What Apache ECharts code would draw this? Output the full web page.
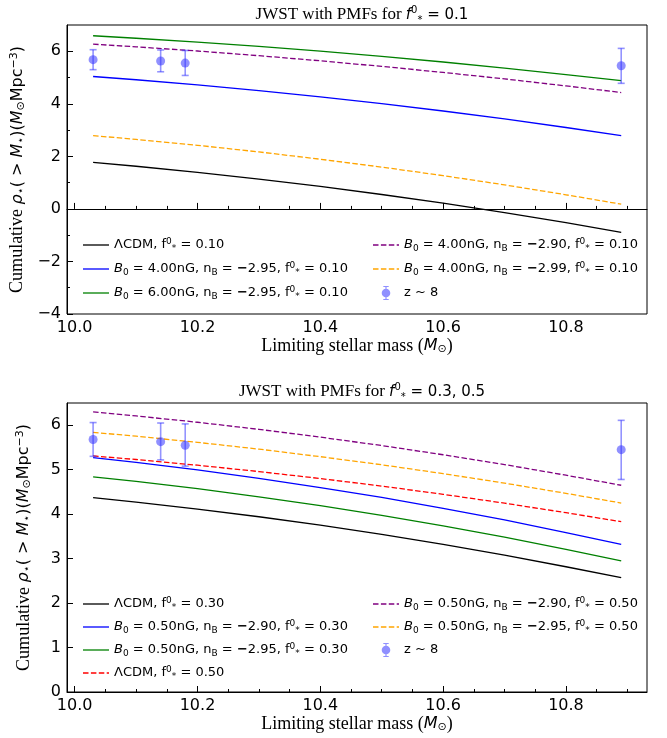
<!DOCTYPE html>
<html><head><meta charset="utf-8">
<script src="https://cdn.jsdelivr.net/npm/echarts@6/dist/echarts.min.js"></script>
<style>html,body{margin:0;padding:0;background:#fff}#c{width:667px;height:738px}</style>
</head><body><div id="c"></div>
<script>
// ---- data ----
const xs = [10.03, 10.1, 10.2, 10.3, 10.4, 10.5, 10.6, 10.7, 10.8, 10.89];
// top panel (f* = 0.1)
const lcdm010   = [1.770, 1.624, 1.394, 1.137, 0.855, 0.549, 0.217, -0.140, -0.526, -0.890];
const b400n295  = [5.040, 4.916, 4.722, 4.505, 4.266, 4.007, 3.726, 3.425, 3.098, 2.790];
const b600n295  = [6.590, 6.496, 6.348, 6.183, 6.002, 5.805, 5.591, 5.362, 5.114, 4.880];
const b400n290  = [6.270, 6.169, 6.010, 5.832, 5.637, 5.425, 5.195, 4.949, 4.682, 4.430];
const b400n299  = [2.790, 2.646, 2.421, 2.169, 1.892, 1.592, 1.266, 0.916, 0.538, 0.180];
// bottom panel (f* = 0.3, 0.5)
const lcdm030     = [4.370, 4.271, 4.115, 3.942, 3.751, 3.544, 3.319, 3.078, 2.817, 2.570];
const b050n290f03 = [5.270, 5.163, 4.994, 4.806, 4.599, 4.375, 4.131, 3.870, 3.587, 3.320];
const b050n295f03 = [4.840, 4.736, 4.573, 4.390, 4.190, 3.973, 3.736, 3.483, 3.209, 2.950];
const lcdm050     = [5.310, 5.229, 5.101, 4.958, 4.801, 4.631, 4.446, 4.247, 4.033, 3.830];
const b050n290f05 = [6.300, 6.209, 6.067, 5.907, 5.732, 5.543, 5.336, 5.115, 4.876, 4.650];
const b050n295f05 = [5.840, 5.753, 5.615, 5.462, 5.293, 5.110, 4.911, 4.698, 4.468, 4.250];
// JWST z~8 points
const z8X  = [10.03, 10.14, 10.18, 10.89];
const z8Y  = [5.68, 5.63, 5.55, 5.45];
const z8Lo = [5.30, 5.22, 5.08, 4.78];
const z8Hi = [6.06, 6.05, 6.03, 6.11];
// ticks
const xMajor = [10.0, 10.2, 10.4, 10.6, 10.8];
const xMinor = [10.05, 10.1, 10.15, 10.25, 10.3, 10.35, 10.45, 10.5, 10.55, 10.65, 10.7, 10.75, 10.85, 10.9];
const yTopMajor = [-4, -2, 0, 2, 4, 6];
const yTopMinor = [-3, -1, 1, 3, 5];
const yBotMajor = [0, 1, 2, 3, 4, 5, 6];

const pair = (a) => xs.map((x, i) => [x, a[i]]);

const labels = {
  t1: 'ΛCDM, f{sup|0}{sub|*} = 0.10',
  t2: '{it|B}{sub|0} = 4.00nG, n{sub|B} = {m|−}2.95, f{sup|0}{sub|*} = 0.10',
  t3: '{it|B}{sub|0} = 6.00nG, n{sub|B} = {m|−}2.95, f{sup|0}{sub|*} = 0.10',
  t4: '{it|B}{sub|0} = 4.00nG, n{sub|B} = {m|−}2.90, f{sup|0}{sub|*} = 0.10',
  t5: '{it|B}{sub|0} = 4.00nG, n{sub|B} = {m|−}2.99, f{sup|0}{sub|*} = 0.10',
  b1: 'ΛCDM, f{sup|0}{sub|*} = 0.30',
  b2: '{it|B}{sub|0} = 0.50nG, n{sub|B} = {m|−}2.90, f{sup|0}{sub|*} = 0.30',
  b3: '{it|B}{sub|0} = 0.50nG, n{sub|B} = {m|−}2.95, f{sup|0}{sub|*} = 0.30',
  b4: 'ΛCDM, f{sup|0}{sub|*} = 0.50',
  b5: '{it|B}{sub|0} = 0.50nG, n{sub|B} = {m|−}2.90, f{sup|0}{sub|*} = 0.50',
  b6: '{it|B}{sub|0} = 0.50nG, n{sub|B} = {m|−}2.95, f{sup|0}{sub|*} = 0.50',
  z8: 'z ~ 8'
};
const dashedNames = {t4: 1, t5: 1, b4: 1, b5: 1, b6: 1};

// legend handle shapes (bounding points keep a 26x14 box)
const BOX = 'M0,0L0,0M26,14L26,14';
const ICON_SOLID = 'path://' + BOX + 'M0,6.35H26V7.65H0Z';
const ICON_DASH = 'path://' + BOX + 'M0,6.35H5.5V7.65H0Z M7.9,6.35H13.4V7.65H7.9Z M15.8,6.35H21.3V7.65H15.8Z M23.7,6.35H26V7.65H23.7Z';
const ICON_ERR = 'path://' + BOX + 'M17.3,7A4.3,4.3 0 1,1 8.7,7A4.3,4.3 0 1,1 17.3,7Z M12.4,0.5H13.6V13.5H12.4Z M10.3,0H15.7V1H10.3Z M10.3,13H15.7V14H10.3Z';

const SANS = 'DejaVu Sans';
const SERIF = 'Liberation Serif';
const legRich = {
  it: {fontStyle: 'italic', fontFamily: SANS, fontSize: 13, color: '#000'},
  sub: {fontSize: 9, fontFamily: SANS, verticalAlign: 'bottom', color: '#000', lineHeight: 10},
  sup: {fontSize: 9, fontFamily: SANS, verticalAlign: 'top', color: '#000', lineHeight: 10},
  m: {fontSize: 13, fontFamily: SANS, fontWeight: 'bold', color: '#000'}
};
function mkLegend(names, left, top, gap) {
  return {
    orient: 'vertical', left: left, top: top, itemGap: gap,
    itemWidth: 26, itemHeight: 14, selectedMode: false,
    data: names.map((n) => ({name: n, icon: n === 'z8' ? ICON_ERR : (dashedNames[n] ? ICON_DASH : ICON_SOLID)})),
    formatter: (n) => labels[n],
    textStyle: {fontFamily: SANS, fontSize: 13, color: '#000', lineHeight: 16, rich: legRich}
  };
}

const dash = [5.5, 2.4];
function line(name, arr, color, dashed, gi) {
  return {
    type: 'line', name: name, data: pair(arr), xAxisIndex: gi * 2, yAxisIndex: gi * 2,
    symbol: 'none', smooth: false, silent: true,
    lineStyle: {color: color, width: 1.3, type: dashed ? dash : 'solid'},
    itemStyle: {color: color}, z: 3
  };
}
function errBars(gi) {
  return {
    type: 'custom', name: 'err' + gi, xAxisIndex: gi * 2, yAxisIndex: gi * 2,
    data: z8X.map((x, i) => [x, z8Lo[i], z8Hi[i]]), silent: true, z: 4,
    renderItem: (params, api) => {
      const lo = api.coord([api.value(0), api.value(1)]);
      const hi = api.coord([api.value(0), api.value(2)]);
      const c = 3.5;
      const st = {stroke: 'rgba(40,40,255,0.5)', lineWidth: 1.6};
      return {type: 'group', children: [
        {type: 'line', shape: {x1: lo[0], y1: lo[1], x2: hi[0], y2: hi[1]}, style: st},
        {type: 'line', shape: {x1: lo[0] - c, y1: lo[1], x2: lo[0] + c, y2: lo[1]}, style: st},
        {type: 'line', shape: {x1: hi[0] - c, y1: hi[1], x2: hi[0] + c, y2: hi[1]}, style: st}
      ]};
    }
  };
}
function pts(gi) {
  return {
    type: 'scatter', name: 'z8', xAxisIndex: gi * 2, yAxisIndex: gi * 2,
    data: z8X.map((x, i) => [x, z8Y[i]]), symbol: 'circle', symbolSize: 9, silent: true, z: 5,
    itemStyle: {color: 'rgba(50,50,255,0.68)'}
  };
}

const tickLabel = {fontFamily: SANS, fontSize: 16, color: '#000'};
function xAxes(gi) {
  return [
    {type: 'value', gridIndex: gi, min: 9.9875, max: 10.932, position: 'bottom',
     name: 'Limiting stellar mass ({it|M}{sub|⊙})', nameLocation: 'middle', nameGap: 20,
     nameTextStyle: {fontFamily: SERIF, fontSize: 18, color: '#000',
       rich: {it: {fontFamily: SANS, fontStyle: 'italic', fontSize: 16, color: '#000'},
              sub: {fontFamily: SANS, fontSize: 11, verticalAlign: 'bottom', lineHeight: 12, color: '#000'}}},
     axisLine: {show: true, lineStyle: {color: '#000', width: 1}},
     axisTick: {show: true, inside: true, length: 6, customValues: xMajor, lineStyle: {color: '#000'}},
     axisLabel: {show: true, customValues: xMajor, margin: 6, formatter: (v) => v.toFixed(1), ...tickLabel},
     splitLine: {show: false}},
    {type: 'value', gridIndex: gi, min: 9.9875, max: 10.932, position: 'bottom',
     axisLine: {show: false},
     axisTick: {show: true, inside: true, length: 3, customValues: xMinor, lineStyle: {color: '#000'}},
     axisLabel: {show: false}, splitLine: {show: false}}
  ];
}
const yName = '{s|Cumulative }{it|ρ}{sub|⋆}( > {it|M}{sub|⋆})({it|M}{sub|⊙}Mpc{sup|−3})';
const yNameStyle = {fontFamily: SANS, fontSize: 16, color: '#000',
  rich: {s: {fontFamily: SERIF, fontSize: 18, color: '#000'},
         it: {fontFamily: SANS, fontStyle: 'italic', fontSize: 16, color: '#000'},
         sub: {fontFamily: SANS, fontSize: 11, verticalAlign: 'bottom', lineHeight: 12, color: '#000'},
         sup: {fontFamily: SANS, fontSize: 11, verticalAlign: 'top', lineHeight: 12, color: '#000'}}};
function yAxes(gi, min, max, major, minor) {
  return [
    {type: 'value', gridIndex: gi, min: min, max: max, position: 'left',
     name: yName, nameLocation: 'middle', nameGap: 34, nameRotate: 90, nameTextStyle: yNameStyle,
     axisLine: {show: true, lineStyle: {color: '#000', width: 1}},
     axisTick: {show: true, inside: true, length: 6, customValues: major, lineStyle: {color: '#000'}},
     axisLabel: {show: true, customValues: major, margin: 6, formatter: (v) => (v < 0 ? '−' + (-v) : '' + v), ...tickLabel},
     splitLine: {show: false}},
    {type: 'value', gridIndex: gi, min: min, max: max, position: 'left',
     axisLine: {show: false},
     axisTick: {show: minor.length > 0, inside: true, length: 3, customValues: minor.length ? minor : [min], lineStyle: {color: '#000'}},
     axisLabel: {show: false}, splitLine: {show: false}}
  ];
}

const titleRich = {
  it: {fontFamily: SANS, fontStyle: 'italic', fontSize: 15, color: '#000'},
  sub: {fontFamily: SANS, fontSize: 10, verticalAlign: 'bottom', lineHeight: 11, color: '#000'},
  sup: {fontFamily: SANS, fontSize: 10, verticalAlign: 'top', lineHeight: 11, color: '#000'},
  n: {fontFamily: SANS, fontSize: 15, color: '#000'}
};

const option = {
  animation: false,
  backgroundColor: '#fff',
  title: [
    {text: 'JWST with PMFs for {it|f}{sup|0}{sub|*}{n| = 0.1}', left: 357, top: 0, textAlign: 'center',
     textStyle: {fontFamily: SERIF, fontSize: 17, fontWeight: 'normal', color: '#000', lineHeight: 20, rich: titleRich}},
    {text: 'JWST with PMFs for {it|f}{sup|0}{sub|*}{n| = 0.3, 0.5}', left: 357, top: 377, textAlign: 'center',
     textStyle: {fontFamily: SERIF, fontSize: 17, fontWeight: 'normal', color: '#000', lineHeight: 20, rich: titleRich}}
  ],
  grid: [
    {left: 67, top: 25, width: 580, height: 289, show: true, borderColor: '#000', borderWidth: 1, backgroundColor: 'transparent'},
    {left: 67, top: 403, width: 580, height: 289, show: true, borderColor: '#000', borderWidth: 1, backgroundColor: 'transparent'}
  ],
  xAxis: [...xAxes(0), ...xAxes(1)],
  yAxis: [...yAxes(0, -4, 7, yTopMajor, yTopMinor), ...yAxes(1, 0, 6.5, yBotMajor, [])],
  legend: [
    mkLegend(['t1', 't2', 't3'], 78, 232, 8),
    mkLegend(['t4', 't5', 'z8'], 368, 232, 8),
    mkLegend(['b1', 'b2', 'b3', 'b4'], 78, 591, 7),
    mkLegend(['b5', 'b6', 'z8'], 368, 591, 7)
  ],
  series: [
    line('t1', lcdm010, '#000000', false, 0),
    line('t2', b400n295, '#0000ff', false, 0),
    line('t3', b600n295, '#008000', false, 0),
    line('t4', b400n290, '#800080', true, 0),
    line('t5', b400n299, '#ffa500', true, 0),
    errBars(0), pts(0),
    line('b1', lcdm030, '#000000', false, 1),
    line('b2', b050n290f03, '#0000ff', false, 1),
    line('b3', b050n295f03, '#008000', false, 1),
    line('b4', lcdm050, '#ff0000', true, 1),
    line('b5', b050n290f05, '#800080', true, 1),
    line('b6', b050n295f05, '#ffa500', true, 1),
    errBars(1), pts(1)
  ]
};
const chart = echarts.init(document.getElementById('c'), null, {renderer: 'canvas'});
chart.setOption(option);
</script></body></html>
